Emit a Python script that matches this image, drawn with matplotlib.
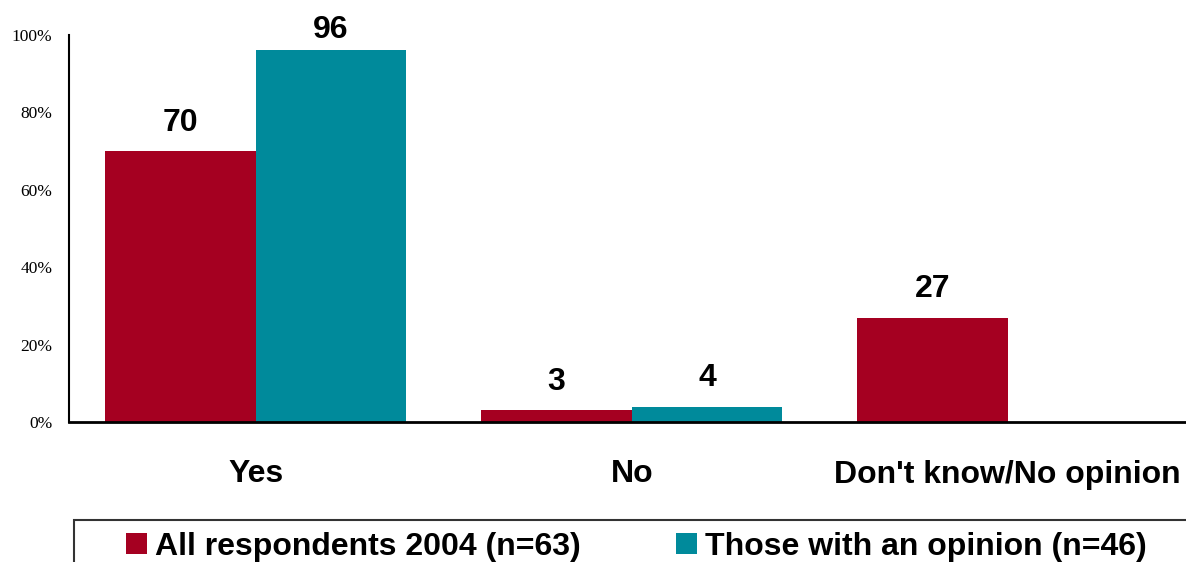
import matplotlib
matplotlib.use("Agg")
import matplotlib.pyplot as plt
from matplotlib.patches import Rectangle, Patch
import numpy as np

categories = ["Yes", "No", "Don't know/No opinion"]
all_respondents = [70, 3, 27]
with_opinion = [96, 4, None]
series_names = ["All respondents 2004 (n=63)", "Those with an opinion (n=46)"]
y_ticks = [0, 20, 40, 60, 80, 100]
y_tick_labels = ["0%", "20%", "40%", "60%", "80%", "100%"]

red = "#A50021"
teal = "#008A9B"
sans = "Liberation Sans"

W, H = 1186, 562
fig = plt.figure(figsize=(W / 100, H / 100), dpi=100)
ax = fig.add_axes([69 / W, 140 / H, (W - 69) / W, 387 / H])

x = np.arange(len(categories))
bw = 0.4
label_gap = 5.2      # data units between bar top and label baseline
label_ceiling = 99.2  # keep labels inside the plotting area
series = [(all_respondents, red, -bw / 2), (with_opinion, teal, bw / 2)]
for vals, col, off in series:
    for xi, v in zip(x, vals):
        if v is None:
            continue
        ax.bar(xi + off, v, width=bw, color=col, edgecolor="none")
        ax.text(xi + off, min(v + label_gap, label_ceiling), f"{v}",
                ha="center", va="baseline", fontsize=23, fontweight="bold",
                family=sans, color="black", clip_on=False)

ax.set_xlim(-0.497, 2.474)
ax.set_ylim(0, 100)
ax.set_yticks(y_ticks)
ax.set_yticklabels(y_tick_labels, family="Liberation Serif", fontsize=12.5)
ax.tick_params(axis="y", length=0, pad=12)
ax.set_xticks(x)
ax.set_xticklabels(categories, family=sans, fontweight="bold", fontsize=23)
ax.tick_params(axis="x", length=0, pad=27)
for s in ["top", "right"]:
    ax.spines[s].set_visible(False)
ax.spines["left"].set_linewidth(1.5)
ax.spines["bottom"].set_linewidth(2)

# legend frame running off the lower right edge
fig.patches.append(Rectangle((74 / W, -0.05), 1.0, (H - 520) / H + 0.05,
                             transform=fig.transFigure, fill=False,
                             edgecolor="#333333", linewidth=1.5))
handles = [Patch(facecolor=red), Patch(facecolor=teal)]
leg = fig.legend(handles, series_names, loc="center left", ncol=2,
                 bbox_to_anchor=(126 / W, 1 - 547 / H), frameon=False,
                 prop={"family": sans, "weight": "bold", "size": 23},
                 handlelength=0.65, handleheight=0.65, handletextpad=0.25,
                 columnspacing=3.0, borderaxespad=0, borderpad=0)

fig.savefig("out.png", dpi=100)
